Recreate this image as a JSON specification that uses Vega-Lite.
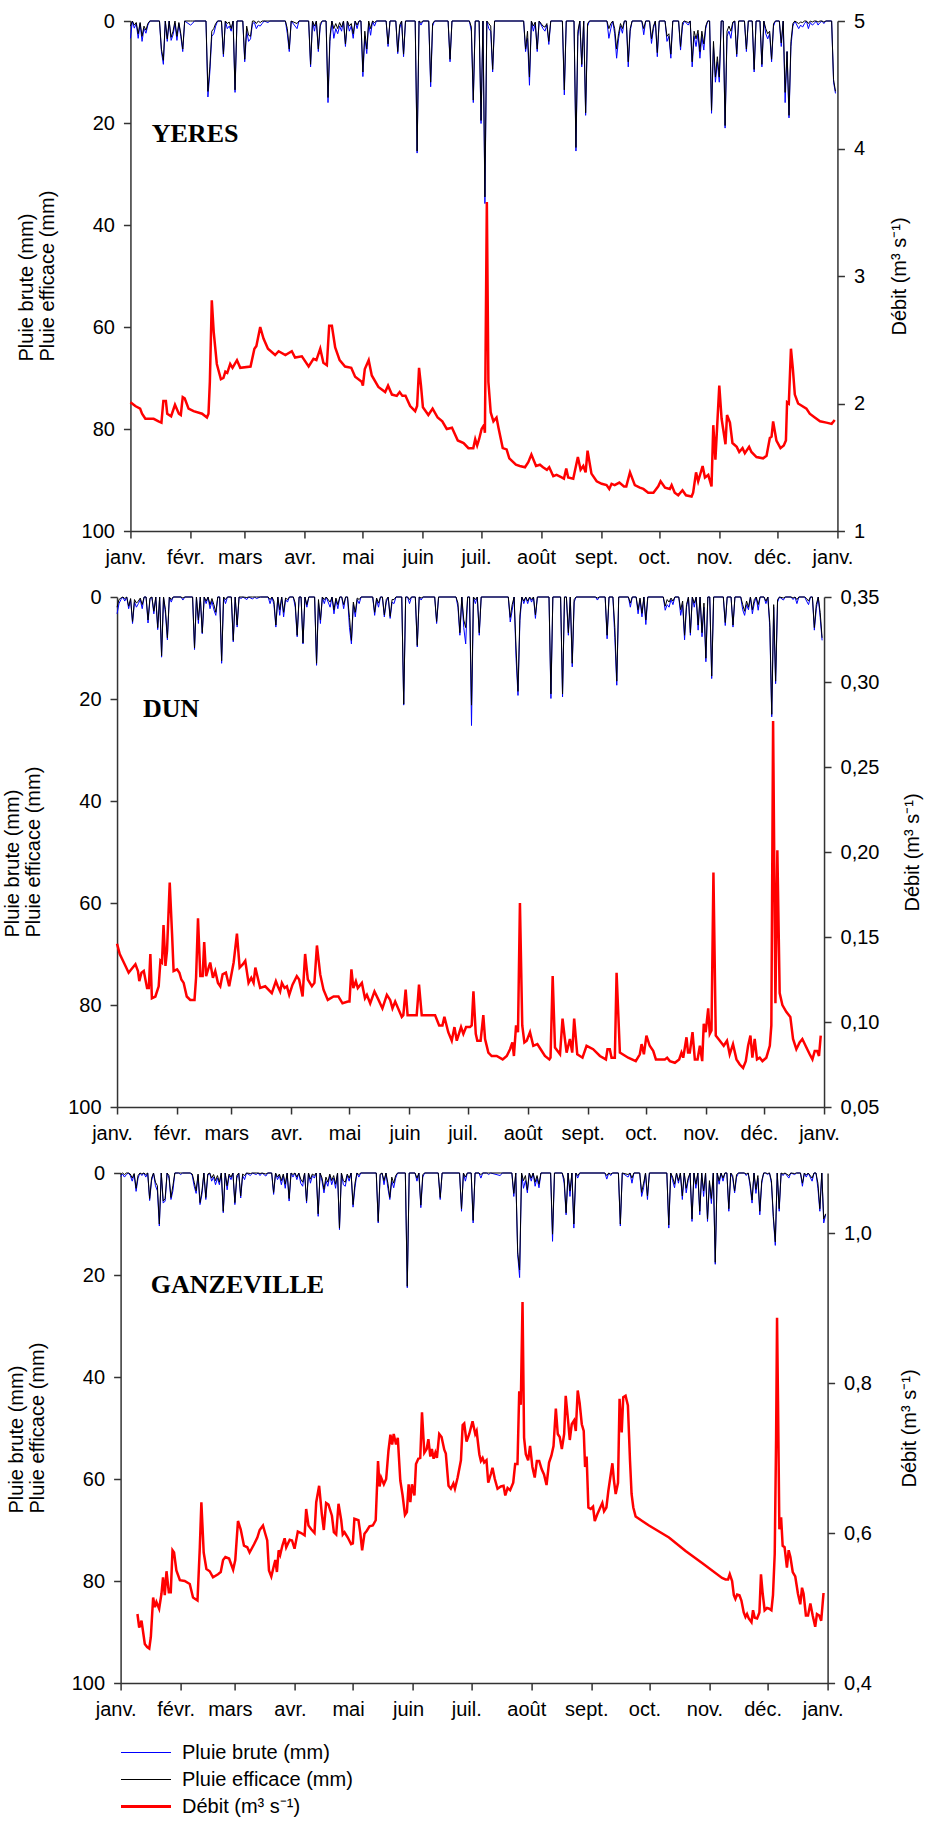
{
"$schema":"https://vega.github.io/schema/vega-lite/v6.json",
"padding":{"left":2,"right":2,"top":11,"bottom":3},
"spacing":20,
"center":true,
"config":{"font":"Liberation Sans","view":{"stroke":null},
"axis":{"grid":false,"labelFont":"Liberation Sans","labelFontSize":20,"labelColor":"#000000","titleFont":"Liberation Sans","titleFontSize":20,"titleFontWeight":"normal","titleColor":"#000000","domainColor":"#333333","domainWidth":1.5,"tickColor":"#333333","tickWidth":1.5,"tickSize":7,"labelPadding":9},
"axisX":{"labelExpr":"datum.value == 0 ? 'janv.' : datum.value == 31 ? 'févr.' : datum.value == 59 ? 'mars' : datum.value == 90 ? 'avr.' : datum.value == 120 ? 'mai' : datum.value == 151 ? 'juin' : datum.value == 181 ? 'juil.' : datum.value == 212 ? 'août' : datum.value == 243 ? 'sept.' : datum.value == 273 ? 'oct.' : datum.value == 304 ? 'nov.' : datum.value == 334 ? 'déc.' : 'janv.'","labelOffset":-5,"labelFlush":false,"labelOverlap":false}},
"datasets":{
"rainY":[{"d":0,"b":3.4,"e":1},{"d":1,"b":0,"e":0},{"d":2,"b":1.4,"e":0.8},{"d":3,"b":0.5,"e":0.3},{"d":4,"b":3.4,"e":2.5},{"d":5,"b":0.5,"e":0.3},{"d":6,"b":4,"e":3},{"d":7,"b":1.5,"e":1},{"d":8,"b":2.4,"e":1.8},{"d":9,"b":0.8,"e":0.5},{"d":10,"b":0,"e":0},{"d":15,"b":0,"e":0},{"d":16,"b":6,"e":5.5},{"d":17,"b":8.5,"e":7.7},{"d":18,"b":0,"e":0},{"d":19,"b":4,"e":3.5},{"d":20,"b":0,"e":0},{"d":21,"b":3.8,"e":3.2},{"d":22,"b":2.7,"e":2},{"d":23,"b":0.5,"e":0},{"d":24,"b":3.8,"e":3},{"d":25,"b":0.5,"e":0.3},{"d":26,"b":3,"e":2.5},{"d":27,"b":6,"e":5.5},{"d":28,"b":0,"e":0},{"d":31,"b":0.8,"e":0},{"d":32,"b":0.5,"e":0},{"d":33,"b":0,"e":0},{"d":39,"b":0,"e":0},{"d":40,"b":14.9,"e":13.8},{"d":41,"b":10,"e":9},{"d":42,"b":3,"e":2},{"d":43,"b":2.5,"e":1.5},{"d":44,"b":1,"e":0.5},{"d":45,"b":0,"e":0},{"d":47,"b":0,"e":0},{"d":48,"b":7,"e":6.5},{"d":49,"b":0,"e":0},{"d":50,"b":1.5,"e":0.5},{"d":51,"b":1,"e":0.2},{"d":52,"b":2,"e":1.5},{"d":53,"b":0,"e":0},{"d":54,"b":14,"e":13.5},{"d":55,"b":0,"e":0},{"d":58,"b":0,"e":0},{"d":59,"b":8,"e":7.5},{"d":60,"b":2,"e":1},{"d":61,"b":4,"e":2.8},{"d":62,"b":3.5,"e":3},{"d":63,"b":0.5,"e":0},{"d":64,"b":0.3,"e":0},{"d":65,"b":1.5,"e":0.5},{"d":66,"b":0.8,"e":0},{"d":67,"b":1,"e":0.3},{"d":68,"b":0.5,"e":0},{"d":69,"b":0,"e":0},{"d":71,"b":0.3,"e":0},{"d":72,"b":0,"e":0},{"d":80,"b":0,"e":0},{"d":81,"b":2.5,"e":1.5},{"d":82,"b":6,"e":5.5},{"d":83,"b":0,"e":0},{"d":86,"b":1.5,"e":0.5},{"d":87,"b":0,"e":0},{"d":92,"b":0,"e":0},{"d":93,"b":9,"e":8.5},{"d":94,"b":0,"e":0},{"d":95,"b":2,"e":1},{"d":96,"b":0,"e":0},{"d":97,"b":6,"e":5.5},{"d":98,"b":1,"e":0.5},{"d":99,"b":0,"e":0},{"d":101,"b":0,"e":0},{"d":102,"b":16,"e":15},{"d":103,"b":4,"e":3},{"d":104,"b":0,"e":0},{"d":105,"b":3.4,"e":1.5},{"d":106,"b":1.5,"e":0.5},{"d":107,"b":2.5,"e":1.5},{"d":108,"b":1,"e":0.3},{"d":109,"b":2,"e":1.2},{"d":110,"b":0,"e":0},{"d":111,"b":5,"e":4.5},{"d":112,"b":0,"e":0},{"d":113,"b":2,"e":1},{"d":114,"b":1,"e":0.5},{"d":115,"b":3.4,"e":2.5},{"d":116,"b":0,"e":0},{"d":117,"b":1.5,"e":0.8},{"d":118,"b":0,"e":0},{"d":119,"b":0,"e":0},{"d":120,"b":10.9,"e":10},{"d":121,"b":3,"e":2},{"d":122,"b":6.4,"e":5.5},{"d":123,"b":0.5,"e":0},{"d":124,"b":2.8,"e":1.5},{"d":125,"b":0,"e":0},{"d":126,"b":1,"e":0.3},{"d":127,"b":0,"e":0},{"d":132,"b":0,"e":0},{"d":133,"b":5,"e":4.5},{"d":134,"b":0,"e":0},{"d":137,"b":0,"e":0},{"d":138,"b":6.4,"e":6},{"d":139,"b":1.5,"e":0.8},{"d":140,"b":0,"e":0},{"d":141,"b":7,"e":6.5},{"d":142,"b":0,"e":0},{"d":147,"b":0,"e":0},{"d":148,"b":25.9,"e":25.5},{"d":149,"b":0,"e":0},{"d":150,"b":0.8,"e":0.3},{"d":151,"b":0,"e":0},{"d":154,"b":0,"e":0},{"d":155,"b":12.9,"e":12},{"d":156,"b":1,"e":0.5},{"d":157,"b":0,"e":0},{"d":164,"b":0,"e":0},{"d":165,"b":8,"e":7.5},{"d":166,"b":0,"e":0},{"d":175,"b":0,"e":0},{"d":176,"b":2,"e":1.2},{"d":177,"b":16,"e":15.5},{"d":178,"b":0,"e":0},{"d":180,"b":0,"e":0},{"d":181,"b":20.1,"e":19.5},{"d":182,"b":0,"e":0},{"d":183,"b":35.8,"e":34.5},{"d":184,"b":0,"e":0},{"d":185,"b":1.5,"e":0.5},{"d":186,"b":2,"e":1},{"d":187,"b":10,"e":9.5},{"d":188,"b":0,"e":0},{"d":203,"b":0,"e":0},{"d":204,"b":6,"e":5.5},{"d":205,"b":3.4,"e":2},{"d":206,"b":12.6,"e":11},{"d":207,"b":0,"e":0},{"d":208,"b":2,"e":1},{"d":209,"b":0.5,"e":0.2},{"d":210,"b":6,"e":5.5},{"d":211,"b":0,"e":0},{"d":213,"b":1.5,"e":1},{"d":214,"b":2,"e":1.2},{"d":215,"b":0.8,"e":0.5},{"d":216,"b":4.6,"e":4},{"d":217,"b":0,"e":0},{"d":223,"b":0,"e":0},{"d":224,"b":14.5,"e":13.5},{"d":225,"b":0,"e":0},{"d":229,"b":0,"e":0},{"d":230,"b":25.5,"e":24.8},{"d":231,"b":3,"e":2},{"d":232,"b":0,"e":0},{"d":233,"b":9,"e":8.5},{"d":234,"b":0,"e":0},{"d":235,"b":18.5,"e":18},{"d":236,"b":1,"e":0.5},{"d":237,"b":0,"e":0},{"d":246,"b":0,"e":0},{"d":247,"b":3.4,"e":1.5},{"d":248,"b":1.5,"e":0.5},{"d":249,"b":0,"e":0},{"d":250,"b":2.5,"e":1.5},{"d":251,"b":7.3,"e":5.5},{"d":252,"b":3.5,"e":2.5},{"d":253,"b":1,"e":0.5},{"d":254,"b":2.4,"e":1.5},{"d":255,"b":0,"e":0},{"d":256,"b":0,"e":0},{"d":257,"b":9,"e":8},{"d":258,"b":2,"e":1.5},{"d":259,"b":0,"e":0},{"d":264,"b":0,"e":0},{"d":265,"b":2.7,"e":1.5},{"d":266,"b":0,"e":0},{"d":268,"b":0,"e":0},{"d":269,"b":4.4,"e":3.5},{"d":270,"b":1.5,"e":1},{"d":271,"b":0,"e":0},{"d":272,"b":7,"e":6.2},{"d":273,"b":0,"e":0},{"d":276,"b":0,"e":0},{"d":277,"b":4,"e":3},{"d":278,"b":3,"e":2.5},{"d":279,"b":7.3,"e":6.5},{"d":280,"b":0,"e":0},{"d":283,"b":0,"e":0},{"d":284,"b":5.7,"e":5},{"d":285,"b":1,"e":0.3},{"d":286,"b":0,"e":0},{"d":288,"b":0.8,"e":0.3},{"d":289,"b":0,"e":0},{"d":290,"b":9,"e":8},{"d":291,"b":3,"e":2},{"d":292,"b":5,"e":3.5},{"d":293,"b":2.5,"e":1.8},{"d":294,"b":7.3,"e":6},{"d":295,"b":3,"e":2},{"d":296,"b":5.7,"e":4.5},{"d":297,"b":1.5,"e":1},{"d":298,"b":0,"e":0},{"d":299,"b":0,"e":0},{"d":300,"b":18.1,"e":17.5},{"d":301,"b":5,"e":4},{"d":302,"b":12,"e":11},{"d":303,"b":8,"e":7},{"d":304,"b":12,"e":11},{"d":305,"b":0,"e":0},{"d":306,"b":0,"e":0},{"d":307,"b":21,"e":20.5},{"d":308,"b":3,"e":2},{"d":309,"b":2,"e":1},{"d":310,"b":3.4,"e":2},{"d":311,"b":0.5,"e":0.2},{"d":312,"b":0,"e":0},{"d":313,"b":7,"e":6.5},{"d":314,"b":0,"e":0},{"d":317,"b":0,"e":0},{"d":318,"b":6,"e":5.5},{"d":319,"b":0,"e":0},{"d":321,"b":0,"e":0},{"d":322,"b":10,"e":9.5},{"d":323,"b":0,"e":0},{"d":325,"b":0,"e":0},{"d":326,"b":9,"e":8.5},{"d":327,"b":0,"e":0},{"d":328,"b":2.5,"e":1.5},{"d":329,"b":3.5,"e":2.5},{"d":330,"b":2.5,"e":2},{"d":331,"b":8,"e":7.5},{"d":332,"b":1,"e":0.5},{"d":333,"b":0,"e":0},{"d":335,"b":0,"e":0},{"d":336,"b":5,"e":4.3},{"d":337,"b":0,"e":0},{"d":338,"b":16,"e":14},{"d":339,"b":6,"e":6},{"d":340,"b":19,"e":18.5},{"d":341,"b":5,"e":4},{"d":342,"b":1,"e":0.5},{"d":343,"b":0,"e":0},{"d":345,"b":1.5,"e":0.5},{"d":346,"b":0.8,"e":0.2},{"d":347,"b":1.2,"e":0.3},{"d":348,"b":0.5,"e":0},{"d":349,"b":0,"e":0},{"d":350,"b":1.5,"e":0.5},{"d":351,"b":0.3,"e":0},{"d":352,"b":0.8,"e":0.2},{"d":353,"b":0.5,"e":0},{"d":354,"b":0,"e":0},{"d":355,"b":0.8,"e":0.2},{"d":356,"b":0.3,"e":0},{"d":357,"b":0,"e":0},{"d":358,"b":0.5,"e":0.2},{"d":359,"b":0,"e":0},{"d":362,"b":0,"e":0},{"d":363,"b":12,"e":11.5},{"d":364,"b":14.2,"e":13.8}],
"qY":[{"d":0,"q":2.01},{"d":2.5,"q":1.98},{"d":5,"q":1.96},{"d":6,"q":1.92},{"d":7.7,"q":1.88},{"d":12,"q":1.88},{"d":14.5,"q":1.86},{"d":16,"q":1.85},{"d":17,"q":2.02},{"d":18.3,"q":2.02},{"d":19,"q":1.92},{"d":21,"q":1.9},{"d":23,"q":1.99},{"d":25,"q":1.92},{"d":26,"q":1.91},{"d":27,"q":2.05},{"d":28,"q":2.04},{"d":30,"q":1.96},{"d":32.6,"q":1.94},{"d":37,"q":1.92},{"d":39.5,"q":1.89},{"d":40.3,"q":1.92},{"d":41,"q":2.17},{"d":42,"q":2.81},{"d":43,"q":2.56},{"d":44.6,"q":2.31},{"d":46.7,"q":2.19},{"d":48,"q":2.2},{"d":49,"q":2.25},{"d":50,"q":2.24},{"d":51.5,"q":2.31},{"d":52.7,"q":2.28},{"d":55,"q":2.34},{"d":56.7,"q":2.28},{"d":62,"q":2.29},{"d":64,"q":2.43},{"d":65,"q":2.45},{"d":67,"q":2.6},{"d":68.7,"q":2.51},{"d":71,"q":2.43},{"d":74.7,"q":2.38},{"d":76.5,"q":2.41},{"d":80,"q":2.38},{"d":83.3,"q":2.41},{"d":85,"q":2.36},{"d":88.5,"q":2.37},{"d":92,"q":2.29},{"d":94.5,"q":2.35},{"d":96,"q":2.34},{"d":98,"q":2.43},{"d":99.6,"q":2.32},{"d":101.4,"q":2.3},{"d":102.6,"q":2.61},{"d":104,"q":2.61},{"d":105.7,"q":2.44},{"d":108,"q":2.34},{"d":110.8,"q":2.29},{"d":114,"q":2.28},{"d":116,"q":2.21},{"d":119.4,"q":2.17},{"d":120,"q":2.14},{"d":121,"q":2.27},{"d":123,"q":2.34},{"d":124.6,"q":2.22},{"d":128,"q":2.13},{"d":131.5,"q":2.09},{"d":133,"q":2.14},{"d":135,"q":2.07},{"d":137.5,"q":2.06},{"d":139,"q":2.09},{"d":140.4,"q":2.06},{"d":142,"q":2.06},{"d":144.4,"q":1.98},{"d":147,"q":1.94},{"d":148,"q":1.98},{"d":149,"q":2.28},{"d":150,"q":2.14},{"d":151,"q":1.97},{"d":153.8,"q":1.91},{"d":156,"q":1.96},{"d":158.6,"q":1.89},{"d":161,"q":1.86},{"d":163.3,"q":1.8},{"d":166,"q":1.81},{"d":169,"q":1.71},{"d":172,"q":1.69},{"d":174.5,"q":1.65},{"d":177,"q":1.65},{"d":178,"q":1.72},{"d":179,"q":1.67},{"d":180,"q":1.72},{"d":181.3,"q":1.8},{"d":182.5,"q":1.83},{"d":183,"q":1.77},{"d":184,"q":3.58},{"d":184.8,"q":2.17},{"d":186,"q":1.93},{"d":187.4,"q":1.86},{"d":189,"q":1.89},{"d":190,"q":1.81},{"d":192.2,"q":1.65},{"d":194.2,"q":1.64},{"d":195.6,"q":1.57},{"d":199,"q":1.52},{"d":201,"q":1.51},{"d":203.7,"q":1.5},{"d":205.4,"q":1.54},{"d":207,"q":1.6},{"d":209.4,"q":1.51},{"d":211.4,"q":1.52},{"d":213,"q":1.5},{"d":215,"q":1.48},{"d":216.2,"q":1.5},{"d":218.3,"q":1.43},{"d":220,"q":1.44},{"d":222.6,"q":1.42},{"d":223.8,"q":1.41},{"d":225,"q":1.49},{"d":226,"q":1.42},{"d":228.6,"q":1.41},{"d":231,"q":1.58},{"d":232.4,"q":1.48},{"d":233.8,"q":1.51},{"d":235,"q":1.46},{"d":236,"q":1.63},{"d":238,"q":1.45},{"d":240.7,"q":1.39},{"d":243.3,"q":1.37},{"d":245.8,"q":1.36},{"d":247.2,"q":1.33},{"d":248.4,"q":1.37},{"d":250,"q":1.36},{"d":252.4,"q":1.38},{"d":254.8,"q":1.35},{"d":256,"q":1.35},{"d":257.9,"q":1.46},{"d":260.4,"q":1.36},{"d":263,"q":1.34},{"d":264.8,"q":1.33},{"d":267.3,"q":1.3},{"d":270,"q":1.3},{"d":272.5,"q":1.35},{"d":273.7,"q":1.39},{"d":276,"q":1.34},{"d":278.5,"q":1.33},{"d":279.4,"q":1.36},{"d":281,"q":1.3},{"d":282.8,"q":1.28},{"d":285,"q":1.32},{"d":286.8,"q":1.28},{"d":289.7,"q":1.27},{"d":290.5,"q":1.3},{"d":292,"q":1.46},{"d":293.1,"q":1.39},{"d":295.4,"q":1.51},{"d":296.6,"q":1.42},{"d":298.3,"q":1.44},{"d":300,"q":1.35},{"d":300.9,"q":1.83},{"d":302,"q":1.56},{"d":304,"q":2.14},{"d":305.2,"q":1.88},{"d":307.2,"q":1.68},{"d":308,"q":1.91},{"d":309.5,"q":1.85},{"d":310.8,"q":1.69},{"d":313,"q":1.66},{"d":314.3,"q":1.62},{"d":316,"q":1.65},{"d":317.2,"q":1.61},{"d":319.4,"q":1.66},{"d":320.6,"q":1.62},{"d":323.2,"q":1.58},{"d":326.6,"q":1.57},{"d":328.4,"q":1.59},{"d":330.1,"q":1.73},{"d":331,"q":1.74},{"d":331.8,"q":1.86},{"d":333.5,"q":1.71},{"d":335.6,"q":1.65},{"d":337.3,"q":1.67},{"d":338.4,"q":1.71},{"d":339,"q":2.01},{"d":339.9,"q":2.0},{"d":341,"q":2.43},{"d":342,"q":2.27},{"d":343,"q":2.07},{"d":344.7,"q":2.0},{"d":349,"q":1.96},{"d":350.7,"q":1.92},{"d":353.3,"q":1.89},{"d":356,"q":1.86},{"d":359.3,"q":1.85},{"d":362,"q":1.84},{"d":363.6,"q":1.87}],
"rainD":[{"d":0,"b":3.3,"e":2},{"d":1,"b":1.3,"e":0.5},{"d":2,"b":0.5,"e":0.2},{"d":3,"b":0,"e":0},{"d":4,"b":0.8,"e":0.3},{"d":5,"b":0,"e":0},{"d":6,"b":2.3,"e":1.8},{"d":7,"b":0.5,"e":0.3},{"d":8,"b":5.2,"e":4.8},{"d":9,"b":1,"e":0.5},{"d":10,"b":2,"e":1.2},{"d":11,"b":1.3,"e":0.8},{"d":12,"b":0.5,"e":0.2},{"d":13,"b":2.3,"e":1.5},{"d":14,"b":0,"e":0},{"d":15,"b":0,"e":0},{"d":16,"b":5.1,"e":4.5},{"d":17,"b":0.5,"e":0.2},{"d":18,"b":0,"e":0},{"d":19,"b":3.3,"e":2.8},{"d":20,"b":0,"e":0},{"d":21,"b":6.4,"e":6},{"d":22,"b":0,"e":0},{"d":23,"b":11.8,"e":11.5},{"d":24,"b":0,"e":0},{"d":25,"b":3.3,"e":2.5},{"d":26,"b":8.4,"e":8},{"d":27,"b":0,"e":0},{"d":28,"b":1,"e":0.5},{"d":29,"b":0,"e":0},{"d":33,"b":0,"e":0},{"d":34,"b":0.6,"e":0.2},{"d":35,"b":0,"e":0},{"d":39,"b":0,"e":0},{"d":40,"b":10.3,"e":10},{"d":41,"b":0,"e":0},{"d":42,"b":5.2,"e":4.5},{"d":43,"b":0,"e":0},{"d":44,"b":7.2,"e":7},{"d":45,"b":0,"e":0},{"d":46,"b":1.3,"e":0.8},{"d":47,"b":0,"e":0},{"d":48,"b":2.3,"e":1.5},{"d":49,"b":0.8,"e":0.3},{"d":50,"b":2.5,"e":1.5},{"d":51,"b":3.6,"e":3},{"d":52,"b":0,"e":0},{"d":53,"b":0,"e":0},{"d":54,"b":13,"e":12.5},{"d":55,"b":0,"e":0},{"d":56,"b":1.3,"e":0.5},{"d":57,"b":0,"e":0},{"d":59,"b":0,"e":0},{"d":60,"b":8.8,"e":8.5},{"d":61,"b":0,"e":0},{"d":62,"b":5.9,"e":5.5},{"d":63,"b":0,"e":0},{"d":64,"b":0.3,"e":0},{"d":65,"b":0,"e":0},{"d":67,"b":0.5,"e":0.1},{"d":68,"b":0,"e":0},{"d":70,"b":0.4,"e":0},{"d":71,"b":0,"e":0},{"d":72,"b":0.3,"e":0},{"d":74,"b":0,"e":0},{"d":78,"b":0,"e":0},{"d":79,"b":1.3,"e":0.5},{"d":80,"b":0,"e":0},{"d":81,"b":1.5,"e":0.8},{"d":82,"b":5.9,"e":5.5},{"d":83,"b":0,"e":0},{"d":84,"b":3.6,"e":2.5},{"d":85,"b":0,"e":0},{"d":86,"b":3.9,"e":3},{"d":87,"b":0.5,"e":0.2},{"d":88,"b":1,"e":0.5},{"d":89,"b":0,"e":0},{"d":91,"b":0,"e":0},{"d":92,"b":2,"e":1.2},{"d":93,"b":7.8,"e":7.5},{"d":94,"b":0,"e":0},{"d":95,"b":0,"e":0},{"d":96,"b":9.2,"e":9},{"d":97,"b":0,"e":0},{"d":98,"b":2,"e":1.5},{"d":99,"b":0,"e":0},{"d":102,"b":0,"e":0},{"d":103,"b":13.4,"e":13},{"d":104,"b":1,"e":0.5},{"d":105,"b":5.2,"e":4.5},{"d":106,"b":0,"e":0},{"d":107,"b":1.3,"e":0.5},{"d":108,"b":0,"e":0},{"d":110,"b":2,"e":1},{"d":111,"b":0,"e":0},{"d":112,"b":3.3,"e":2.5},{"d":113,"b":0.5,"e":0.2},{"d":114,"b":2.3,"e":1.5},{"d":115,"b":0,"e":0},{"d":116,"b":0,"e":0},{"d":117,"b":2.3,"e":1.5},{"d":118,"b":0,"e":0},{"d":119,"b":0,"e":0},{"d":120,"b":6,"e":4},{"d":121,"b":9.2,"e":8.5},{"d":122,"b":1.5,"e":1},{"d":123,"b":3.9,"e":3},{"d":124,"b":0.5,"e":0.2},{"d":125,"b":1.3,"e":0.5},{"d":126,"b":0,"e":0},{"d":132,"b":0,"e":0},{"d":133,"b":3.6,"e":3},{"d":134,"b":0.5,"e":0.2},{"d":135,"b":2,"e":1.2},{"d":136,"b":0,"e":0},{"d":137,"b":0,"e":0},{"d":138,"b":3.9,"e":3.5},{"d":139,"b":1,"e":0.5},{"d":140,"b":0,"e":0},{"d":141,"b":4.2,"e":3.8},{"d":142,"b":1,"e":0.5},{"d":143,"b":1.3,"e":0.5},{"d":144,"b":0,"e":0},{"d":147,"b":0,"e":0},{"d":148,"b":21.2,"e":21},{"d":149,"b":0,"e":0},{"d":150,"b":0,"e":0},{"d":151,"b":1.3,"e":0.5},{"d":152,"b":0,"e":0},{"d":154,"b":0,"e":0},{"d":155,"b":9.8,"e":9.5},{"d":156,"b":0,"e":0},{"d":157,"b":0.6,"e":0.2},{"d":158,"b":0,"e":0},{"d":164,"b":0,"e":0},{"d":165,"b":5.2,"e":4.8},{"d":166,"b":0,"e":0},{"d":175,"b":0,"e":0},{"d":176,"b":2,"e":1.2},{"d":177,"b":7.5,"e":7},{"d":178,"b":0,"e":0},{"d":179,"b":6,"e":4.5},{"d":180,"b":9.2,"e":6},{"d":181,"b":0,"e":0},{"d":182,"b":0,"e":0},{"d":183,"b":25.2,"e":21.2},{"d":184,"b":0,"e":0},{"d":185,"b":1.3,"e":0.5},{"d":186,"b":0,"e":0},{"d":187,"b":7.5,"e":7},{"d":188,"b":0,"e":0},{"d":202,"b":0,"e":0},{"d":203,"b":4.9,"e":4},{"d":204,"b":2.6,"e":1.5},{"d":205,"b":0,"e":0},{"d":206,"b":12,"e":10},{"d":207,"b":19.3,"e":18.5},{"d":208,"b":4.6,"e":3.5},{"d":209,"b":0,"e":0},{"d":210,"b":1.3,"e":0.8},{"d":211,"b":0,"e":0},{"d":212,"b":1.3,"e":0.8},{"d":213,"b":0,"e":0},{"d":214,"b":1,"e":0.5},{"d":215,"b":0,"e":0},{"d":216,"b":4.2,"e":3.5},{"d":217,"b":0,"e":0},{"d":223,"b":0,"e":0},{"d":224,"b":19.9,"e":19},{"d":225,"b":0,"e":0},{"d":229,"b":0,"e":0},{"d":230,"b":19.6,"e":19},{"d":231,"b":0,"e":0},{"d":232,"b":0,"e":0},{"d":233,"b":7.5,"e":7},{"d":234,"b":0,"e":0},{"d":235,"b":13.7,"e":13},{"d":236,"b":1,"e":0.5},{"d":237,"b":0,"e":0},{"d":247,"b":0,"e":0},{"d":248,"b":0.6,"e":0.2},{"d":249,"b":0,"e":0},{"d":252,"b":0,"e":0},{"d":253,"b":8.2,"e":7.5},{"d":254,"b":0,"e":0},{"d":256,"b":0,"e":0},{"d":257,"b":8,"e":6},{"d":258,"b":17.3,"e":16.5},{"d":259,"b":0,"e":0},{"d":264,"b":0,"e":0},{"d":265,"b":2,"e":1.2},{"d":266,"b":0,"e":0},{"d":268,"b":0,"e":0},{"d":269,"b":3.3,"e":2.5},{"d":270,"b":0.5,"e":0.2},{"d":271,"b":3.9,"e":3.2},{"d":272,"b":0,"e":0},{"d":273,"b":5.4,"e":4.5},{"d":274,"b":0,"e":0},{"d":282,"b":0,"e":0},{"d":283,"b":2.6,"e":1.8},{"d":284,"b":1.5,"e":0.5},{"d":285,"b":2,"e":1},{"d":286,"b":0.5,"e":0.2},{"d":287,"b":1.5,"e":0.8},{"d":288,"b":0,"e":0},{"d":290,"b":0,"e":0},{"d":291,"b":3.6,"e":2.5},{"d":292,"b":1.5,"e":0.8},{"d":293,"b":8.4,"e":7.5},{"d":294,"b":2,"e":1.5},{"d":295,"b":0,"e":0},{"d":296,"b":7.5,"e":7},{"d":297,"b":0,"e":0},{"d":298,"b":2,"e":1.2},{"d":299,"b":0,"e":0},{"d":300,"b":6.5,"e":5.5},{"d":301,"b":0,"e":0},{"d":302,"b":7.8,"e":7},{"d":303,"b":2,"e":1.2},{"d":304,"b":12.7,"e":12},{"d":305,"b":0,"e":0},{"d":306,"b":0,"e":0},{"d":307,"b":16,"e":15.5},{"d":308,"b":0,"e":0},{"d":313,"b":0,"e":0},{"d":314,"b":5.6,"e":5},{"d":315,"b":0,"e":0},{"d":317,"b":0,"e":0},{"d":318,"b":5.9,"e":5.5},{"d":319,"b":0,"e":0},{"d":322,"b":0,"e":0},{"d":323,"b":2.5,"e":1.5},{"d":324,"b":3.6,"e":2.8},{"d":325,"b":1.5,"e":0.8},{"d":326,"b":2.5,"e":2},{"d":327,"b":0,"e":0},{"d":328,"b":3.3,"e":2.5},{"d":329,"b":1.2,"e":0.5},{"d":330,"b":0,"e":0},{"d":331,"b":2.6,"e":1.5},{"d":332,"b":0,"e":0},{"d":334,"b":0,"e":0},{"d":335,"b":1.3,"e":0.8},{"d":336,"b":0,"e":0},{"d":337,"b":6,"e":5},{"d":338,"b":23.5,"e":23},{"d":339,"b":2,"e":1.5},{"d":340,"b":17,"e":16.5},{"d":341,"b":1,"e":0.5},{"d":342,"b":0,"e":0},{"d":344,"b":0.6,"e":0.2},{"d":345,"b":0,"e":0},{"d":348,"b":0,"e":0},{"d":349,"b":0.5,"e":0.2},{"d":350,"b":0,"e":0},{"d":351,"b":1.3,"e":0.5},{"d":352,"b":0,"e":0},{"d":355,"b":0,"e":0},{"d":356,"b":0.8,"e":0.3},{"d":357,"b":1.5,"e":0.8},{"d":358,"b":0,"e":0},{"d":359,"b":0,"e":0},{"d":360,"b":6.5,"e":6},{"d":361,"b":2.3,"e":1.5},{"d":362,"b":0,"e":0},{"d":363,"b":4,"e":3},{"d":364,"b":8.5,"e":8}],
"qD":[{"d":0,"q":0.146},{"d":1.4,"q":0.14},{"d":3.5,"q":0.135},{"d":6,"q":0.129},{"d":7.4,"q":0.131},{"d":9.5,"q":0.134},{"d":10.8,"q":0.13},{"d":11.5,"q":0.124},{"d":12.6,"q":0.129},{"d":13.8,"q":0.13},{"d":15.5,"q":0.12},{"d":16.4,"q":0.12},{"d":17.2,"q":0.14},{"d":18,"q":0.114},{"d":19.8,"q":0.115},{"d":21.5,"q":0.121},{"d":22.4,"q":0.136},{"d":23.2,"q":0.135},{"d":24,"q":0.157},{"d":25,"q":0.133},{"d":25.8,"q":0.142},{"d":27.2,"q":0.182},{"d":28.4,"q":0.152},{"d":29.2,"q":0.13},{"d":31,"q":0.131},{"d":32.2,"q":0.129},{"d":33.2,"q":0.125},{"d":34.4,"q":0.123},{"d":36,"q":0.115},{"d":37.8,"q":0.113},{"d":40,"q":0.113},{"d":40.8,"q":0.126},{"d":41.8,"q":0.161},{"d":43,"q":0.127},{"d":44.2,"q":0.127},{"d":45,"q":0.147},{"d":46,"q":0.127},{"d":47.3,"q":0.132},{"d":48.1,"q":0.135},{"d":49.5,"q":0.126},{"d":50.7,"q":0.13},{"d":52.1,"q":0.123},{"d":53.3,"q":0.121},{"d":54.5,"q":0.128},{"d":56.2,"q":0.129},{"d":57.9,"q":0.121},{"d":60.2,"q":0.135},{"d":61.9,"q":0.152},{"d":63.3,"q":0.132},{"d":65,"q":0.134},{"d":66.2,"q":0.136},{"d":67.9,"q":0.123},{"d":69.3,"q":0.126},{"d":70.5,"q":0.123},{"d":71.4,"q":0.132},{"d":73.9,"q":0.12},{"d":76.5,"q":0.121},{"d":79.9,"q":0.117},{"d":82,"q":0.124},{"d":83,"q":0.121},{"d":84.2,"q":0.118},{"d":85.1,"q":0.123},{"d":86.5,"q":0.12},{"d":87.7,"q":0.121},{"d":88.9,"q":0.116},{"d":90.6,"q":0.122},{"d":92.8,"q":0.127},{"d":94,"q":0.125},{"d":95.8,"q":0.115},{"d":97.1,"q":0.14},{"d":98.5,"q":0.125},{"d":100.6,"q":0.121},{"d":101.9,"q":0.123},{"d":103.2,"q":0.145},{"d":104.9,"q":0.128},{"d":106.6,"q":0.119},{"d":108.8,"q":0.113},{"d":111.8,"q":0.115},{"d":114.3,"q":0.115},{"d":116.4,"q":0.111},{"d":119.2,"q":0.112},{"d":120,"q":0.112},{"d":121,"q":0.131},{"d":122,"q":0.12},{"d":123.3,"q":0.124},{"d":124.3,"q":0.12},{"d":126.4,"q":0.123},{"d":128,"q":0.114},{"d":129,"q":0.116},{"d":130.7,"q":0.111},{"d":132.9,"q":0.118},{"d":135,"q":0.113},{"d":137,"q":0.108},{"d":139.3,"q":0.116},{"d":141,"q":0.113},{"d":142.2,"q":0.108},{"d":143.6,"q":0.112},{"d":147,"q":0.103},{"d":147.8,"q":0.104},{"d":149,"q":0.119},{"d":150,"q":0.104},{"d":154.7,"q":0.104},{"d":155.9,"q":0.122},{"d":157.3,"q":0.104},{"d":164.2,"q":0.104},{"d":166.3,"q":0.098},{"d":168,"q":0.098},{"d":169,"q":0.103},{"d":171,"q":0.094},{"d":172.8,"q":0.089},{"d":174.2,"q":0.097},{"d":175.4,"q":0.089},{"d":177.6,"q":0.097},{"d":178.8,"q":0.093},{"d":180.2,"q":0.097},{"d":182.2,"q":0.097},{"d":183.1,"q":0.098},{"d":184,"q":0.118},{"d":185.2,"q":0.093},{"d":186,"q":0.089},{"d":187.7,"q":0.089},{"d":189.1,"q":0.104},{"d":190,"q":0.09},{"d":191.7,"q":0.082},{"d":193.4,"q":0.08},{"d":196,"q":0.08},{"d":199.1,"q":0.078},{"d":201.2,"q":0.08},{"d":202.9,"q":0.084},{"d":204.1,"q":0.088},{"d":204.9,"q":0.08},{"d":206,"q":0.098},{"d":207,"q":0.094},{"d":208,"q":0.17},{"d":209.2,"q":0.098},{"d":210.3,"q":0.088},{"d":211.5,"q":0.089},{"d":213.2,"q":0.094},{"d":214.9,"q":0.086},{"d":217,"q":0.087},{"d":218.7,"q":0.084},{"d":220.9,"q":0.08},{"d":223.2,"q":0.078},{"d":223.8,"q":0.079},{"d":224.9,"q":0.127},{"d":226.1,"q":0.085},{"d":228.7,"q":0.081},{"d":230,"q":0.102},{"d":231.2,"q":0.09},{"d":232.1,"q":0.082},{"d":233.8,"q":0.09},{"d":235,"q":0.082},{"d":236,"q":0.102},{"d":237.6,"q":0.081},{"d":240.3,"q":0.079},{"d":242.4,"q":0.086},{"d":245.8,"q":0.084},{"d":249.3,"q":0.08},{"d":252.4,"q":0.078},{"d":253.2,"q":0.084},{"d":254.4,"q":0.084},{"d":255.3,"q":0.079},{"d":257,"q":0.079},{"d":257.9,"q":0.129},{"d":259.6,"q":0.082},{"d":263.9,"q":0.079},{"d":267.8,"q":0.077},{"d":269.9,"q":0.081},{"d":270.8,"q":0.087},{"d":272,"q":0.081},{"d":273.3,"q":0.092},{"d":275,"q":0.086},{"d":276.8,"q":0.083},{"d":278.2,"q":0.078},{"d":282.8,"q":0.078},{"d":284,"q":0.079},{"d":285.4,"q":0.077},{"d":288,"q":0.076},{"d":290.2,"q":0.078},{"d":291.4,"q":0.082},{"d":292.3,"q":0.079},{"d":294,"q":0.091},{"d":294.8,"q":0.082},{"d":295.7,"q":0.082},{"d":297.1,"q":0.094},{"d":298.3,"q":0.078},{"d":299.7,"q":0.078},{"d":300.9,"q":0.086},{"d":302.1,"q":0.077},{"d":302.9,"q":0.099},{"d":303.9,"q":0.094},{"d":305.2,"q":0.108},{"d":306,"q":0.093},{"d":306.9,"q":0.095},{"d":307.9,"q":0.188},{"d":309.1,"q":0.092},{"d":311.2,"q":0.089},{"d":313.2,"q":0.086},{"d":314.9,"q":0.089},{"d":316.3,"q":0.081},{"d":318,"q":0.087},{"d":319.8,"q":0.078},{"d":321.5,"q":0.075},{"d":323.2,"q":0.073},{"d":324.6,"q":0.077},{"d":325.8,"q":0.086},{"d":327,"q":0.092},{"d":328,"q":0.079},{"d":329.2,"q":0.09},{"d":330.4,"q":0.078},{"d":331.8,"q":0.079},{"d":333.2,"q":0.077},{"d":335.2,"q":0.079},{"d":337,"q":0.086},{"d":337.8,"q":0.098},{"d":338.7,"q":0.277},{"d":339.9,"q":0.111},{"d":340.9,"q":0.201},{"d":342.1,"q":0.117},{"d":343.5,"q":0.11},{"d":345.5,"q":0.106},{"d":347.6,"q":0.103},{"d":349,"q":0.09},{"d":350.7,"q":0.084},{"d":352.4,"q":0.088},{"d":353.8,"q":0.09},{"d":355.9,"q":0.085},{"d":357.6,"q":0.081},{"d":359,"q":0.078},{"d":360.2,"q":0.083},{"d":361.4,"q":0.083},{"d":362.4,"q":0.08},{"d":363.3,"q":0.092}],
"rainG":[{"d":0,"b":0.7,"e":0.3},{"d":1,"b":0.2,"e":0},{"d":2,"b":0.8,"e":0.3},{"d":3,"b":0.3,"e":0},{"d":4,"b":0,"e":0},{"d":5,"b":0.5,"e":0.2},{"d":6,"b":1.6,"e":1},{"d":7,"b":0.3,"e":0.1},{"d":8,"b":3.6,"e":3},{"d":9,"b":1,"e":0.5},{"d":10,"b":0,"e":0},{"d":11,"b":0.5,"e":0.2},{"d":12,"b":0,"e":0},{"d":13,"b":0.8,"e":0.3},{"d":14,"b":0,"e":0},{"d":15,"b":5.4,"e":5},{"d":16,"b":1.5,"e":1},{"d":17,"b":0,"e":0},{"d":18,"b":2.5,"e":1.8},{"d":19,"b":3.5,"e":2.5},{"d":20,"b":10.4,"e":10},{"d":21,"b":0,"e":0},{"d":22,"b":5.9,"e":5.5},{"d":23,"b":5.5,"e":5},{"d":24,"b":0,"e":0},{"d":25,"b":1,"e":0.5},{"d":26,"b":5.2,"e":4.8},{"d":27,"b":3.5,"e":2.5},{"d":28,"b":0,"e":0},{"d":30,"b":0,"e":0},{"d":31,"b":0.3,"e":0},{"d":32,"b":0,"e":0},{"d":36,"b":0,"e":0},{"d":37,"b":0.5,"e":0.2},{"d":38,"b":2.6,"e":1.8},{"d":39,"b":4,"e":3.5},{"d":40,"b":0.5,"e":0.2},{"d":41,"b":6.2,"e":5.8},{"d":42,"b":4.2,"e":3.5},{"d":43,"b":0,"e":0},{"d":44,"b":5.2,"e":4.8},{"d":45,"b":0.5,"e":0.2},{"d":46,"b":0,"e":0},{"d":47,"b":1.6,"e":1},{"d":48,"b":0.8,"e":0.3},{"d":49,"b":2.3,"e":1.5},{"d":50,"b":1,"e":0.5},{"d":51,"b":2.3,"e":1.8},{"d":52,"b":0,"e":0},{"d":53,"b":7.8,"e":7.5},{"d":54,"b":0,"e":0},{"d":55,"b":3.3,"e":2.5},{"d":56,"b":0.5,"e":0.2},{"d":57,"b":1.3,"e":0.8},{"d":58,"b":0,"e":0},{"d":59,"b":6.2,"e":5.8},{"d":60,"b":1,"e":0.5},{"d":61,"b":0,"e":0},{"d":62,"b":4.9,"e":4.5},{"d":63,"b":0.5,"e":0.2},{"d":64,"b":1.3,"e":0.5},{"d":65,"b":0,"e":0},{"d":67,"b":0.5,"e":0.1},{"d":68,"b":0,"e":0},{"d":70,"b":0.3,"e":0},{"d":71,"b":0,"e":0},{"d":72,"b":0.5,"e":0.1},{"d":73,"b":0,"e":0},{"d":75,"b":0.6,"e":0.2},{"d":76,"b":0,"e":0},{"d":78,"b":0,"e":0},{"d":79,"b":4.2,"e":3.8},{"d":80,"b":0,"e":0},{"d":81,"b":1.3,"e":0.8},{"d":82,"b":0.5,"e":0.2},{"d":83,"b":2.3,"e":1.5},{"d":84,"b":0.5,"e":0.2},{"d":85,"b":3,"e":2.2},{"d":86,"b":0,"e":0},{"d":87,"b":5.5,"e":5},{"d":88,"b":0,"e":0},{"d":89,"b":0.8,"e":0.3},{"d":90,"b":0,"e":0},{"d":91,"b":1.3,"e":0.8},{"d":92,"b":0,"e":0},{"d":93,"b":2,"e":1.2},{"d":94,"b":2.6,"e":1.8},{"d":95,"b":0,"e":0},{"d":96,"b":5.9,"e":5.5},{"d":97,"b":0,"e":0},{"d":98,"b":2,"e":1.2},{"d":99,"b":0.5,"e":0.2},{"d":100,"b":1,"e":0.5},{"d":101,"b":0,"e":0},{"d":102,"b":8.5,"e":8},{"d":103,"b":0,"e":0},{"d":104,"b":1.6,"e":1},{"d":105,"b":3.9,"e":3.2},{"d":106,"b":1.5,"e":0.8},{"d":107,"b":2.6,"e":1.8},{"d":108,"b":0.5,"e":0.2},{"d":109,"b":2.3,"e":1.5},{"d":110,"b":1,"e":0.5},{"d":111,"b":3,"e":2.2},{"d":112,"b":0,"e":0},{"d":113,"b":11.1,"e":10.8},{"d":114,"b":0,"e":0},{"d":115,"b":2.3,"e":1.5},{"d":116,"b":2.6,"e":1.8},{"d":117,"b":0.5,"e":0.2},{"d":118,"b":1.6,"e":1},{"d":119,"b":0,"e":0},{"d":120,"b":6.7,"e":6.2},{"d":121,"b":2.9,"e":2},{"d":122,"b":0,"e":0},{"d":123,"b":0.8,"e":0.3},{"d":124,"b":0,"e":0},{"d":132,"b":0,"e":0},{"d":133,"b":9.8,"e":9.5},{"d":134,"b":0.5,"e":0.2},{"d":135,"b":0,"e":0},{"d":136,"b":2.3,"e":1.5},{"d":137,"b":0,"e":0},{"d":138,"b":3,"e":2},{"d":139,"b":5.2,"e":4.8},{"d":140,"b":1.6,"e":0.8},{"d":141,"b":2.9,"e":2},{"d":142,"b":1,"e":0.5},{"d":143,"b":0,"e":0},{"d":147,"b":0,"e":0},{"d":148,"b":22.5,"e":22.2},{"d":149,"b":0,"e":0},{"d":152,"b":0,"e":0},{"d":153,"b":1.6,"e":1},{"d":154,"b":0,"e":0},{"d":155,"b":6.8,"e":6.3},{"d":156,"b":0.8,"e":0.3},{"d":157,"b":0,"e":0},{"d":164,"b":0,"e":0},{"d":165,"b":5.2,"e":4.8},{"d":166,"b":0,"e":0},{"d":175,"b":0,"e":0},{"d":176,"b":7.5,"e":7},{"d":177,"b":0,"e":0},{"d":178,"b":1.6,"e":0.8},{"d":179,"b":0,"e":0},{"d":181,"b":0,"e":0},{"d":182,"b":9.8,"e":9.3},{"d":183,"b":0,"e":0},{"d":185,"b":0,"e":0},{"d":186,"b":1,"e":0.3},{"d":187,"b":0,"e":0},{"d":189,"b":0,"e":0},{"d":190,"b":0.3,"e":0},{"d":191,"b":0,"e":0},{"d":196,"b":0.5,"e":0},{"d":197,"b":0,"e":0},{"d":202,"b":0,"e":0},{"d":203,"b":4.6,"e":4},{"d":204,"b":0,"e":0},{"d":205,"b":16,"e":15.5},{"d":206,"b":20.5,"e":19},{"d":207,"b":0,"e":0},{"d":208,"b":3,"e":1.5},{"d":209,"b":1.5,"e":0.5},{"d":210,"b":3.9,"e":3.3},{"d":211,"b":0,"e":0},{"d":212,"b":1.6,"e":1},{"d":213,"b":0,"e":0},{"d":214,"b":2.6,"e":1.8},{"d":215,"b":1,"e":0.5},{"d":216,"b":2.9,"e":2.2},{"d":217,"b":0,"e":0},{"d":222,"b":0,"e":0},{"d":223,"b":13.4,"e":12},{"d":224,"b":0,"e":0},{"d":228,"b":0,"e":0},{"d":229,"b":2,"e":1.2},{"d":230,"b":8.2,"e":7.8},{"d":231,"b":0,"e":0},{"d":232,"b":4.6,"e":3.5},{"d":233,"b":0,"e":0},{"d":234,"b":10.8,"e":10},{"d":235,"b":0,"e":0},{"d":236,"b":1,"e":0.5},{"d":237,"b":0,"e":0},{"d":250,"b":0,"e":0},{"d":251,"b":1.2,"e":0.5},{"d":252,"b":0,"e":0},{"d":253,"b":0.5,"e":0.2},{"d":254,"b":0,"e":0},{"d":257,"b":0,"e":0},{"d":258,"b":10.4,"e":10},{"d":259,"b":0,"e":0},{"d":262,"b":0.8,"e":0.3},{"d":263,"b":0,"e":0},{"d":264,"b":2,"e":1},{"d":265,"b":0,"e":0},{"d":268,"b":0,"e":0},{"d":269,"b":4.6,"e":3.8},{"d":270,"b":2.9,"e":2},{"d":271,"b":0,"e":0},{"d":272,"b":5.2,"e":4.5},{"d":273,"b":0,"e":0},{"d":282,"b":0,"e":0},{"d":283,"b":10.8,"e":10.2},{"d":284,"b":0,"e":0},{"d":285,"b":1.5,"e":0.8},{"d":286,"b":2.9,"e":2.2},{"d":287,"b":0,"e":0},{"d":288,"b":2,"e":1.5},{"d":289,"b":0,"e":0},{"d":290,"b":5.2,"e":4.5},{"d":291,"b":0,"e":0},{"d":292,"b":3.9,"e":3},{"d":293,"b":1.5,"e":1},{"d":294,"b":0,"e":0},{"d":295,"b":9.5,"e":9},{"d":296,"b":0,"e":0},{"d":297,"b":3,"e":2.2},{"d":298,"b":0,"e":0},{"d":299,"b":8.2,"e":7.5},{"d":300,"b":0,"e":0},{"d":301,"b":4.6,"e":3.5},{"d":302,"b":0,"e":0},{"d":303,"b":9.5,"e":9},{"d":304,"b":2,"e":1.5},{"d":305,"b":6,"e":5},{"d":306,"b":0,"e":0},{"d":307,"b":17.9,"e":17.5},{"d":308,"b":0,"e":0},{"d":309,"b":2.2,"e":1.5},{"d":310,"b":0,"e":0},{"d":311,"b":1.6,"e":1},{"d":312,"b":0,"e":0},{"d":313,"b":0,"e":0},{"d":314,"b":7.5,"e":7},{"d":315,"b":0,"e":0},{"d":316,"b":1,"e":0.5},{"d":317,"b":3.9,"e":3.5},{"d":318,"b":0.8,"e":0.3},{"d":319,"b":0,"e":0},{"d":322,"b":0,"e":0},{"d":323,"b":0.5,"e":0.2},{"d":324,"b":0,"e":0},{"d":325,"b":2.6,"e":2},{"d":326,"b":5.9,"e":5.3},{"d":327,"b":0,"e":0},{"d":328,"b":4,"e":3.2},{"d":329,"b":1,"e":0.5},{"d":330,"b":8.2,"e":7.5},{"d":331,"b":2,"e":1.5},{"d":332,"b":0,"e":0},{"d":333,"b":0,"e":0},{"d":334,"b":0.3,"e":0.1},{"d":335,"b":0,"e":0},{"d":336,"b":2,"e":1.5},{"d":337,"b":9,"e":8.5},{"d":338,"b":14.2,"e":13.5},{"d":339,"b":0,"e":0},{"d":340,"b":7.5,"e":7},{"d":341,"b":0,"e":0},{"d":342,"b":0.5,"e":0.2},{"d":343,"b":0,"e":0},{"d":345,"b":1,"e":0.5},{"d":346,"b":0,"e":0},{"d":348,"b":0.3,"e":0.1},{"d":349,"b":0,"e":0},{"d":351,"b":0,"e":0},{"d":352,"b":2.6,"e":2},{"d":353,"b":0,"e":0},{"d":354,"b":0.8,"e":0.4},{"d":355,"b":0,"e":0},{"d":357,"b":1.6,"e":1},{"d":358,"b":0,"e":0},{"d":359,"b":0,"e":0},{"d":360,"b":3,"e":2},{"d":361,"b":7.5,"e":7},{"d":362,"b":0,"e":0},{"d":363,"b":9.8,"e":9},{"d":364,"b":8.2,"e":8}],
"qG":[{"d":8.7,"q":0.492},{"d":9.6,"q":0.474},{"d":10.8,"q":0.483},{"d":12.5,"q":0.452},{"d":13.7,"q":0.448},{"d":14.8,"q":0.446},{"d":15.6,"q":0.461},{"d":16.8,"q":0.514},{"d":17.7,"q":0.501},{"d":18.5,"q":0.508},{"d":19.9,"q":0.499},{"d":21.1,"q":0.519},{"d":21.9,"q":0.541},{"d":22.8,"q":0.517},{"d":23.7,"q":0.549},{"d":24.9,"q":0.521},{"d":25.9,"q":0.521},{"d":26.8,"q":0.577},{"d":27.6,"q":0.574},{"d":28.8,"q":0.55},{"d":30.6,"q":0.537},{"d":33.1,"q":0.536},{"d":35.7,"q":0.532},{"d":37.4,"q":0.514},{"d":39.7,"q":0.51},{"d":40.9,"q":0.581},{"d":41.7,"q":0.641},{"d":42.9,"q":0.574},{"d":44.3,"q":0.552},{"d":46,"q":0.549},{"d":47.7,"q":0.541},{"d":50.3,"q":0.545},{"d":51.7,"q":0.548},{"d":52.9,"q":0.564},{"d":54.1,"q":0.568},{"d":56,"q":0.566},{"d":58.1,"q":0.551},{"d":59.2,"q":0.564},{"d":60.6,"q":0.616},{"d":62,"q":0.605},{"d":63.7,"q":0.583},{"d":65.4,"q":0.581},{"d":66.6,"q":0.574},{"d":68.9,"q":0.585},{"d":70.6,"q":0.594},{"d":71.8,"q":0.604},{"d":73.5,"q":0.61},{"d":74.7,"q":0.599},{"d":75.7,"q":0.59},{"d":76.6,"q":0.55},{"d":77.8,"q":0.542},{"d":79.2,"q":0.557},{"d":79.9,"q":0.564},{"d":80.7,"q":0.548},{"d":81.6,"q":0.577},{"d":82.4,"q":0.571},{"d":83.5,"q":0.583},{"d":84.7,"q":0.593},{"d":85.5,"q":0.581},{"d":87.3,"q":0.591},{"d":88.5,"q":0.59},{"d":89.8,"q":0.579},{"d":91.5,"q":0.602},{"d":93.2,"q":0.6},{"d":95,"q":0.597},{"d":95.8,"q":0.632},{"d":97,"q":0.61},{"d":98.4,"q":0.605},{"d":100.1,"q":0.6},{"d":101,"q":0.641},{"d":102.5,"q":0.663},{"d":103.9,"q":0.625},{"d":104.9,"q":0.604},{"d":106.1,"q":0.64},{"d":107.3,"q":0.638},{"d":109.1,"q":0.623},{"d":110.1,"q":0.601},{"d":111.3,"q":0.598},{"d":112.5,"q":0.639},{"d":113.9,"q":0.617},{"d":114.7,"q":0.598},{"d":115.6,"q":0.601},{"d":117.3,"q":0.594},{"d":119,"q":0.585},{"d":119.9,"q":0.586},{"d":120.7,"q":0.619},{"d":122.8,"q":0.617},{"d":123.7,"q":0.601},{"d":124.7,"q":0.577},{"d":125.9,"q":0.599},{"d":127.1,"q":0.603},{"d":128.5,"q":0.609},{"d":130.2,"q":0.61},{"d":131.7,"q":0.617},{"d":132.9,"q":0.696},{"d":133.7,"q":0.662},{"d":134.5,"q":0.674},{"d":135.9,"q":0.665},{"d":137.1,"q":0.672},{"d":138.3,"q":0.71},{"d":139.3,"q":0.731},{"d":140.2,"q":0.718},{"d":141,"q":0.732},{"d":142.2,"q":0.718},{"d":143.1,"q":0.727},{"d":144.4,"q":0.67},{"d":145.6,"q":0.65},{"d":146.8,"q":0.624},{"d":147.8,"q":0.628},{"d":148.7,"q":0.665},{"d":149.6,"q":0.641},{"d":150.4,"q":0.665},{"d":151.7,"q":0.65},{"d":152.5,"q":0.692},{"d":153.7,"q":0.699},{"d":154.7,"q":0.7},{"d":155.6,"q":0.761},{"d":156.8,"q":0.707},{"d":158,"q":0.712},{"d":158.9,"q":0.725},{"d":159.9,"q":0.702},{"d":160.7,"q":0.712},{"d":161.6,"q":0.699},{"d":162.5,"q":0.707},{"d":163.3,"q":0.7},{"d":164.5,"q":0.732},{"d":165.7,"q":0.728},{"d":167.1,"q":0.711},{"d":167.9,"q":0.706},{"d":169.3,"q":0.663},{"d":170.5,"q":0.659},{"d":171.8,"q":0.666},{"d":172.6,"q":0.659},{"d":174,"q":0.674},{"d":175.7,"q":0.697},{"d":176.6,"q":0.744},{"d":177.4,"q":0.746},{"d":178.6,"q":0.722},{"d":180,"q":0.732},{"d":181.7,"q":0.749},{"d":183.1,"q":0.732},{"d":183.8,"q":0.736},{"d":185.2,"q":0.705},{"d":186,"q":0.696},{"d":186.9,"q":0.7},{"d":187.7,"q":0.694},{"d":188.9,"q":0.697},{"d":189.8,"q":0.667},{"d":191.2,"q":0.679},{"d":192,"q":0.687},{"d":193.2,"q":0.672},{"d":194.6,"q":0.659},{"d":196.3,"q":0.662},{"d":197.7,"q":0.663},{"d":198.6,"q":0.65},{"d":199.8,"q":0.66},{"d":201.1,"q":0.657},{"d":202.7,"q":0.667},{"d":203.7,"q":0.692},{"d":204.9,"q":0.692},{"d":205.8,"q":0.789},{"d":206.6,"q":0.771},{"d":207.5,"q":0.908},{"d":208.3,"q":0.727},{"d":209.2,"q":0.705},{"d":210.4,"q":0.697},{"d":211.4,"q":0.716},{"d":212.6,"q":0.688},{"d":213.8,"q":0.674},{"d":214.9,"q":0.696},{"d":216.1,"q":0.696},{"d":217.4,"q":0.685},{"d":218.6,"q":0.678},{"d":219.9,"q":0.664},{"d":221.2,"q":0.694},{"d":222.4,"q":0.703},{"d":223.5,"q":0.716},{"d":224.7,"q":0.766},{"d":225.7,"q":0.732},{"d":226.7,"q":0.728},{"d":227.8,"q":0.712},{"d":229,"q":0.732},{"d":229.8,"q":0.783},{"d":230.8,"q":0.756},{"d":231.9,"q":0.724},{"d":232.9,"q":0.745},{"d":234.1,"q":0.75},{"d":235,"q":0.736},{"d":236,"q":0.79},{"d":237,"q":0.773},{"d":238.1,"q":0.745},{"d":239.1,"q":0.736},{"d":239.8,"q":0.688},{"d":240.6,"q":0.702},{"d":241.5,"q":0.634},{"d":242.7,"q":0.632},{"d":243.9,"q":0.635},{"d":244.8,"q":0.616},{"d":246.1,"q":0.625},{"d":247.3,"q":0.632},{"d":248.7,"q":0.64},{"d":249.6,"q":0.629},{"d":250.8,"q":0.634},{"d":251.8,"q":0.656},{"d":252.7,"q":0.672},{"d":253.9,"q":0.693},{"d":254.7,"q":0.67},{"d":255.6,"q":0.652},{"d":256.8,"q":0.667},{"d":257.6,"q":0.779},{"d":258.7,"q":0.734},{"d":259.5,"q":0.781},{"d":260.7,"q":0.783},{"d":261.9,"q":0.77},{"d":263,"q":0.696},{"d":263.8,"q":0.652},{"d":264.7,"q":0.634},{"d":265.9,"q":0.622},{"d":269.3,"q":0.616},{"d":272.8,"q":0.61},{"d":283.1,"q":0.594},{"d":291.7,"q":0.576},{"d":300.2,"q":0.56},{"d":310.5,"q":0.54},{"d":312.3,"q":0.538},{"d":313.6,"q":0.538},{"d":314.5,"q":0.545},{"d":315.7,"q":0.536},{"d":316.6,"q":0.517},{"d":317.4,"q":0.512},{"d":318.3,"q":0.518},{"d":319.5,"q":0.517},{"d":320.5,"q":0.51},{"d":321.7,"q":0.494},{"d":322.6,"q":0.488},{"d":323.4,"q":0.492},{"d":324.3,"q":0.486},{"d":325.7,"q":0.481},{"d":326.5,"q":0.497},{"d":327.4,"q":0.487},{"d":328.6,"q":0.486},{"d":329.8,"q":0.494},{"d":330.6,"q":0.545},{"d":331.5,"q":0.519},{"d":332.5,"q":0.497},{"d":333.7,"q":0.5},{"d":334.9,"q":0.499},{"d":336,"q":0.497},{"d":336.8,"q":0.517},{"d":337.7,"q":0.572},{"d":338.4,"q":0.723},{"d":338.9,"q":0.887},{"d":339.4,"q":0.776},{"d":340.1,"q":0.605},{"d":341,"q":0.621},{"d":341.8,"q":0.583},{"d":342.8,"q":0.581},{"d":344,"q":0.554},{"d":344.9,"q":0.577},{"d":345.8,"q":0.568},{"d":347,"q":0.548},{"d":348.3,"q":0.542},{"d":349.7,"q":0.519},{"d":350.9,"q":0.505},{"d":351.8,"q":0.527},{"d":352.6,"q":0.519},{"d":353.8,"q":0.49},{"d":354.9,"q":0.49},{"d":356.1,"q":0.506},{"d":357.3,"q":0.49},{"d":358.6,"q":0.475},{"d":359.5,"q":0.492},{"d":360.7,"q":0.49},{"d":361.7,"q":0.483},{"d":362.9,"q":0.52}]
},
"vconcat":[
{"width":707,"height":510,"resolve":{"scale":{"y":"independent"}},
"layer":[
{"data":{"name":"rainY"},"mark":{"type":"line","strokeWidth":1},
"encoding":{"x":{"field":"d","type":"quantitative","title":null,"scale":{"domain":[0,365],"nice":false,"zero":false},"axis":{"values":[0,31,59,90,120,151,181,212,243,273,304,334,365]}},
"y":{"field":"b","type":"quantitative","scale":{"domain":[0,100],"reverse":true,"nice":false,"zero":false},"axis":{"orient":"left","values":[0,20,40,60,80,100],"title":["Pluie brute (mm)","Pluie efficace (mm)"],"titlePadding":24,"titleAlign":"left","titleY":340,"titleLineHeight":21}},
"color":{"datum":"Pluie brute (mm)","scale":{"domain":["Pluie brute (mm)","Pluie efficace (mm)","Débit (m³ s⁻¹)"],"range":["#0000ff","#000000","#ff0000"]},
"legend":{"title":null,"orient":"none","legendX":19,"legendY":1721.5,"direction":"vertical","symbolType":"M-2.5,0H2.5","symbolSize":400,"symbolStrokeWidth":1,"labelFontSize":20,"labelFont":"Liberation Sans","labelColor":"#000000","labelOffset":26,"labelLimit":400,"rowPadding":7,"padding":0,"encode":{"symbols":{"update":{"strokeWidth":{"signal":"datum.value === 'Débit (m³ s⁻¹)' ? 3 : 1"}}}}}}}},
{"data":{"name":"rainY"},"mark":{"type":"line","strokeWidth":1},
"encoding":{"x":{"field":"d","type":"quantitative","title":null,"scale":{"domain":[0,365],"nice":false,"zero":false}},
"y":{"field":"e","type":"quantitative","scale":{"domain":[0,100],"reverse":true,"nice":false,"zero":false},"axis":null},
"color":{"datum":"Pluie efficace (mm)","scale":{"domain":["Pluie brute (mm)","Pluie efficace (mm)","Débit (m³ s⁻¹)"],"range":["#0000ff","#000000","#ff0000"]},"legend":null}}},
{"data":{"values":[{"name":"YERES"}]},"mark":{"type":"text","font":"Liberation Serif","fontSize":26,"fontWeight":"bold","align":"left","baseline":"alphabetic","color":"#000000"},
"encoding":{"x":{"datum":11,"type":"quantitative","title":null,"scale":{"domain":[0,365],"nice":false,"zero":false}},"y":{"datum":23.7,"type":"quantitative","scale":{"domain":[0,100],"reverse":true,"nice":false,"zero":false},"axis":null},"text":{"field":"name"}}},
{"data":{"name":"qY"},"mark":{"type":"line","strokeWidth":2.5},
"encoding":{"x":{"field":"d","type":"quantitative","title":null,"scale":{"domain":[0,365],"nice":false,"zero":false}},
"y":{"field":"q","type":"quantitative","scale":{"domain":[1,5],"nice":false,"zero":false},"axis":{"orient":"right","values":[1,2,3,4,5],"title":"Débit (m³ s⁻¹)","titleAngle":270,"titleBaseline":"top","titlePadding":25}},
"color":{"datum":"Débit (m³ s⁻¹)","scale":{"domain":["Pluie brute (mm)","Pluie efficace (mm)","Débit (m³ s⁻¹)"],"range":["#0000ff","#000000","#ff0000"]},"legend":null}}}
]},
{"width":707,"height":510,"resolve":{"scale":{"y":"independent"}},
"layer":[
{"data":{"name":"rainD"},"mark":{"type":"line","strokeWidth":1},
"encoding":{"x":{"field":"d","type":"quantitative","title":null,"scale":{"domain":[0,365],"nice":false,"zero":false},"axis":{"values":[0,31,59,90,120,151,181,212,243,273,304,334,365]}},
"y":{"field":"b","type":"quantitative","scale":{"domain":[0,100],"reverse":true,"nice":false,"zero":false},"axis":{"orient":"left","values":[0,20,40,60,80,100],"title":["Pluie brute (mm)","Pluie efficace (mm)"],"titlePadding":24,"titleAlign":"left","titleY":340,"titleLineHeight":21}},
"color":{"datum":"Pluie brute (mm)","scale":{"domain":["Pluie brute (mm)","Pluie efficace (mm)","Débit (m³ s⁻¹)"],"range":["#0000ff","#000000","#ff0000"]},"legend":null}}},
{"data":{"name":"rainD"},"mark":{"type":"line","strokeWidth":1},
"encoding":{"x":{"field":"d","type":"quantitative","title":null,"scale":{"domain":[0,365],"nice":false,"zero":false}},
"y":{"field":"e","type":"quantitative","scale":{"domain":[0,100],"reverse":true,"nice":false,"zero":false},"axis":null},
"color":{"datum":"Pluie efficace (mm)","scale":{"domain":["Pluie brute (mm)","Pluie efficace (mm)","Débit (m³ s⁻¹)"],"range":["#0000ff","#000000","#ff0000"]},"legend":null}}},
{"data":{"values":[{"name":"DUN"}]},"mark":{"type":"text","font":"Liberation Serif","fontSize":26,"fontWeight":"bold","align":"left","baseline":"alphabetic","color":"#000000"},
"encoding":{"x":{"datum":13.4,"type":"quantitative","title":null,"scale":{"domain":[0,365],"nice":false,"zero":false}},"y":{"datum":23.6,"type":"quantitative","scale":{"domain":[0,100],"reverse":true,"nice":false,"zero":false},"axis":null},"text":{"field":"name"}}},
{"data":{"name":"qD"},"mark":{"type":"line","strokeWidth":2.5},
"encoding":{"x":{"field":"d","type":"quantitative","title":null,"scale":{"domain":[0,365],"nice":false,"zero":false}},
"y":{"field":"q","type":"quantitative","scale":{"domain":[0.05,0.35],"nice":false,"zero":false},"axis":{"orient":"right","values":[0.05,0.1,0.15,0.2,0.25,0.3,0.35],"labelExpr":"replace(format(datum.value, '.2f'), '.', ',')","title":"Débit (m³ s⁻¹)","titleAngle":270,"titleBaseline":"top","titlePadding":24}},
"color":{"datum":"Débit (m³ s⁻¹)","scale":{"domain":["Pluie brute (mm)","Pluie efficace (mm)","Débit (m³ s⁻¹)"],"range":["#0000ff","#000000","#ff0000"]},"legend":null}}}
]},
{"width":707,"height":510,"resolve":{"scale":{"y":"independent"}},
"layer":[
{"data":{"name":"rainG"},"mark":{"type":"line","strokeWidth":1},
"encoding":{"x":{"field":"d","type":"quantitative","title":null,"scale":{"domain":[0,365],"nice":false,"zero":false},"axis":{"values":[0,31,59,90,120,151,181,212,243,273,304,334,365]}},
"y":{"field":"b","type":"quantitative","scale":{"domain":[0,100],"reverse":true,"nice":false,"zero":false},"axis":{"orient":"left","values":[0,20,40,60,80,100],"title":["Pluie brute (mm)","Pluie efficace (mm)"],"titlePadding":24,"titleAlign":"left","titleY":340,"titleLineHeight":21}},
"color":{"datum":"Pluie brute (mm)","scale":{"domain":["Pluie brute (mm)","Pluie efficace (mm)","Débit (m³ s⁻¹)"],"range":["#0000ff","#000000","#ff0000"]},"legend":null}}},
{"data":{"name":"rainG"},"mark":{"type":"line","strokeWidth":1},
"encoding":{"x":{"field":"d","type":"quantitative","title":null,"scale":{"domain":[0,365],"nice":false,"zero":false}},
"y":{"field":"e","type":"quantitative","scale":{"domain":[0,100],"reverse":true,"nice":false,"zero":false},"axis":null},
"color":{"datum":"Pluie efficace (mm)","scale":{"domain":["Pluie brute (mm)","Pluie efficace (mm)","Débit (m³ s⁻¹)"],"range":["#0000ff","#000000","#ff0000"]},"legend":null}}},
{"data":{"values":[{"name":"GANZEVILLE"}]},"mark":{"type":"text","font":"Liberation Serif","fontSize":26,"fontWeight":"bold","align":"left","baseline":"alphabetic","color":"#000000"},
"encoding":{"x":{"datum":15.6,"type":"quantitative","title":null,"scale":{"domain":[0,365],"nice":false,"zero":false}},"y":{"datum":23.5,"type":"quantitative","scale":{"domain":[0,100],"reverse":true,"nice":false,"zero":false},"axis":null},"text":{"field":"name"}}},
{"data":{"name":"qG"},"mark":{"type":"line","strokeWidth":2.5},
"encoding":{"x":{"field":"d","type":"quantitative","title":null,"scale":{"domain":[0,365],"nice":false,"zero":false}},
"y":{"field":"q","type":"quantitative","scale":{"domain":[0.4,1.08],"nice":false,"zero":false},"axis":{"orient":"right","values":[0.4,0.6,0.8,1.0],"labelExpr":"replace(format(datum.value, '.1f'), '.', ',')","title":"Débit (m³ s⁻¹)","titleAngle":270,"titleBaseline":"top","titlePadding":28}},
"color":{"datum":"Débit (m³ s⁻¹)","scale":{"domain":["Pluie brute (mm)","Pluie efficace (mm)","Débit (m³ s⁻¹)"],"range":["#0000ff","#000000","#ff0000"]},"legend":null}}}
]}
]
}
